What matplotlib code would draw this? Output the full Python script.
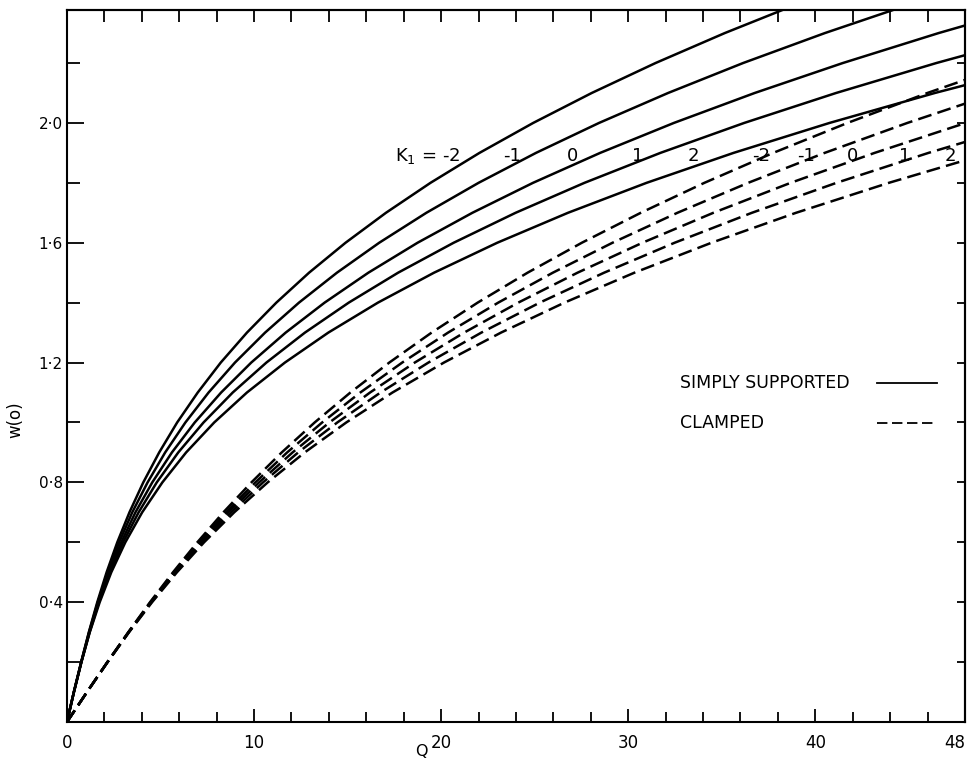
import numpy as np
import matplotlib
matplotlib.use('Agg')
import matplotlib.pyplot as plt
from matplotlib.ticker import NullFormatter

plt.rcParams['font.family'] = ['DejaVu Sans']
plt.rcParams['lines.scale_dashes'] = False

w_levels = [0.0, 0.1, 0.2, 0.3, 0.4, 0.5, 0.6, 0.7, 0.8, 0.9, 1.0, 1.1, 1.2,
            1.3, 1.4, 1.5, 1.6, 1.7, 1.8, 1.9, 2.0, 2.1, 2.2, 2.3, 2.4]

# simply supported (solid), K1 = -2, -1, 0, 1, 2
q_ss_m2 = [0, 0.37, 0.76, 1.17, 1.62, 2.12, 2.69, 3.34, 4.08, 4.93, 5.89, 6.99, 8.22,
           9.62, 11.19, 12.94, 14.89, 17.05, 19.43, 22.05, 24.92, 28.05, 31.46, 35.16, 39.16]
q_ss_m1 = [0, 0.37, 0.76, 1.18, 1.65, 2.18, 2.79, 3.49, 4.31, 5.25, 6.33, 7.57, 8.98,
           10.59, 12.40, 14.43, 16.69, 19.21, 22.00, 25.07, 28.44, 32.13, 36.14, 40.51, 45.24]
q_ss_0 = [0, 0.37, 0.77, 1.20, 1.68, 2.24, 2.90, 3.66, 4.56, 5.61, 6.83, 8.24, 9.85,
          11.69, 13.77, 16.11, 18.74, 21.67, 24.91, 28.50, 32.44, 36.76, 41.47, 46.59, 52.15]
q_ss_1 = [0, 0.37, 0.77, 1.21, 1.71, 2.30, 3.00, 3.83, 4.80, 5.95, 7.30, 8.86, 10.66,
          12.72, 15.06, 17.70, 20.67, 23.98, 27.66, 31.72, 36.20, 41.11, 46.47, 52.31]
q_ss_2 = [0, 0.37, 0.77, 1.22, 1.75, 2.37, 3.12, 4.02, 5.10, 6.37, 7.87, 9.62, 11.65,
          13.97, 16.62, 19.62, 23.00, 26.78, 30.98, 35.63, 40.76, 46.39, 52.54]

# clamped (dashed), K1 = -2, -1, 0, 1, 2
q_cl_m2 = [0, 1.07, 2.16, 3.28, 4.44, 5.67, 6.97, 8.36, 9.86, 11.48, 13.24, 15.15, 17.23,
           19.49, 21.95, 24.62, 27.52, 30.67, 34.07, 37.75, 41.72, 45.99, 50.59]
q_cl_m1 = [0, 1.07, 2.16, 3.29, 4.47, 5.72, 7.06, 8.50, 10.07, 11.77, 13.64, 15.68, 17.92,
           20.37, 23.05, 25.97, 29.16, 32.63, 36.41, 40.50, 44.92, 49.70]
q_cl_0 = [0, 1.07, 2.17, 3.30, 4.49, 5.77, 7.14, 8.63, 10.27, 12.06, 14.03, 16.20, 18.59,
          21.23, 24.12, 27.29, 30.76, 34.55, 38.68, 43.17, 48.04, 53.31]
q_cl_1 = [0, 1.07, 2.17, 3.31, 4.52, 5.82, 7.23, 8.78, 10.48, 12.36, 14.45, 16.76, 19.32,
          22.15, 25.27, 28.71, 32.48, 36.61, 41.13, 46.05, 51.40]
q_cl_2 = [0, 1.07, 2.17, 3.32, 4.55, 5.88, 7.33, 8.94, 10.73, 12.71, 14.93, 17.40, 20.15,
          23.20, 26.59, 30.33, 34.45, 38.97, 43.93, 49.34]

k_labels = ['-2', '-1', '0', '1', '2']
x_ticks = [0, 10, 20, 30, 40, 48]
x_tick_labels = ['0', '10', '20', '30', '40', '48']
y_ticks = [0.4, 0.8, 1.2, 1.6, 2.0]
y_tick_labels = ['0\u00b74', '0\u00b78', '1\u00b72', '1\u00b76', '2\u00b70']

# where the K1 labels sit along the curves
ss_label_q = [21.0, 23.8, 27.0, 30.5, 33.5]
cl_label_q = [37.1, 39.5, 42.0, 44.8, 47.2]
label_w = 1.89

fig = plt.figure(figsize=(9.72, 7.64), dpi=100)
ax = fig.add_axes([0.0689, 0.0550, 0.9239, 0.9319])

for q in [q_ss_m2, q_ss_m1, q_ss_0, q_ss_1, q_ss_2]:
    ax.plot(q, w_levels[:len(q)], color='black', lw=1.8)
for q in [q_cl_m2, q_cl_m1, q_cl_0, q_cl_1, q_cl_2]:
    ax.plot(q, w_levels[:len(q)], color='black', lw=1.8, linestyle=(0, (10, 4.5)))

ax.set_xlim(0, 48)
ax.set_ylim(0, 2.377)

ax.set_xticks(x_ticks)
ax.set_xticklabels(x_tick_labels)
ax.set_xticks(np.arange(2, 48, 2), minor=True)
ax.set_yticks(y_ticks)
ax.set_yticklabels(y_tick_labels)
ax.set_yticks([0.2, 0.6, 1.0, 1.4, 1.8, 2.2], minor=True)
ax.tick_params(axis='x', which='major', direction='in', length=9.5, width=1.3, pad=9, labelsize=12)
ax.tick_params(axis='x', which='minor', direction='in', length=7.5, width=1.3)
ax.tick_params(axis='y', which='major', direction='in', length=12, width=1.3, pad=3, labelsize=11)
ax.tick_params(axis='y', which='minor', direction='in', length=9, width=1.3)
ax.get_xticklabels()[-1].set_ha('right')

# top and right frame ticks
top = ax.secondary_xaxis('top')
top.set_xticks(np.arange(2, 48, 2))
top.xaxis.set_major_formatter(NullFormatter())
top.tick_params(direction='in', length=8.6, width=1.3)
right = ax.secondary_yaxis('right')
right.set_yticks(np.arange(0.2, 2.3, 0.2))
right.yaxis.set_major_formatter(NullFormatter())
right.tick_params(direction='in', length=5.5, width=1.3)
for a in [ax, top, right]:
    for s in a.spines.values():
        s.set_linewidth(1.5)

ax.set_xlabel('Q', fontsize=11.5)
ax.xaxis.set_label_coords(0.395, -0.031)
ax.set_ylabel('w(o)', fontsize=12)
ax.yaxis.set_label_coords(-0.047, 0.424)

ax.text(ss_label_q[0], label_w, 'K$_1$ = ' + k_labels[0], ha='right', va='center', fontsize=13)
for lab, q in zip(k_labels[1:], ss_label_q[1:]):
    ax.text(q, label_w, lab, ha='center', va='center', fontsize=13)
for lab, q in zip(k_labels, cl_label_q):
    ax.text(q, label_w, lab, ha='center', va='center', fontsize=13)

# key
ax.text(0.683, 0.476, 'SIMPLY SUPPORTED', transform=ax.transAxes, ha='left', va='center', fontsize=12.5)
ax.text(0.683, 0.420, 'CLAMPED', transform=ax.transAxes, ha='left', va='center', fontsize=12.5)
ax.plot([0.902, 0.969], [0.476, 0.476], transform=ax.transAxes, color='black', lw=1.3)
ax.plot([0.902, 0.969], [0.420, 0.420], transform=ax.transAxes, color='black', lw=1.3,
        linestyle=(0, (7.5, 3.3)))

plt.savefig('out.png', dpi=100)
